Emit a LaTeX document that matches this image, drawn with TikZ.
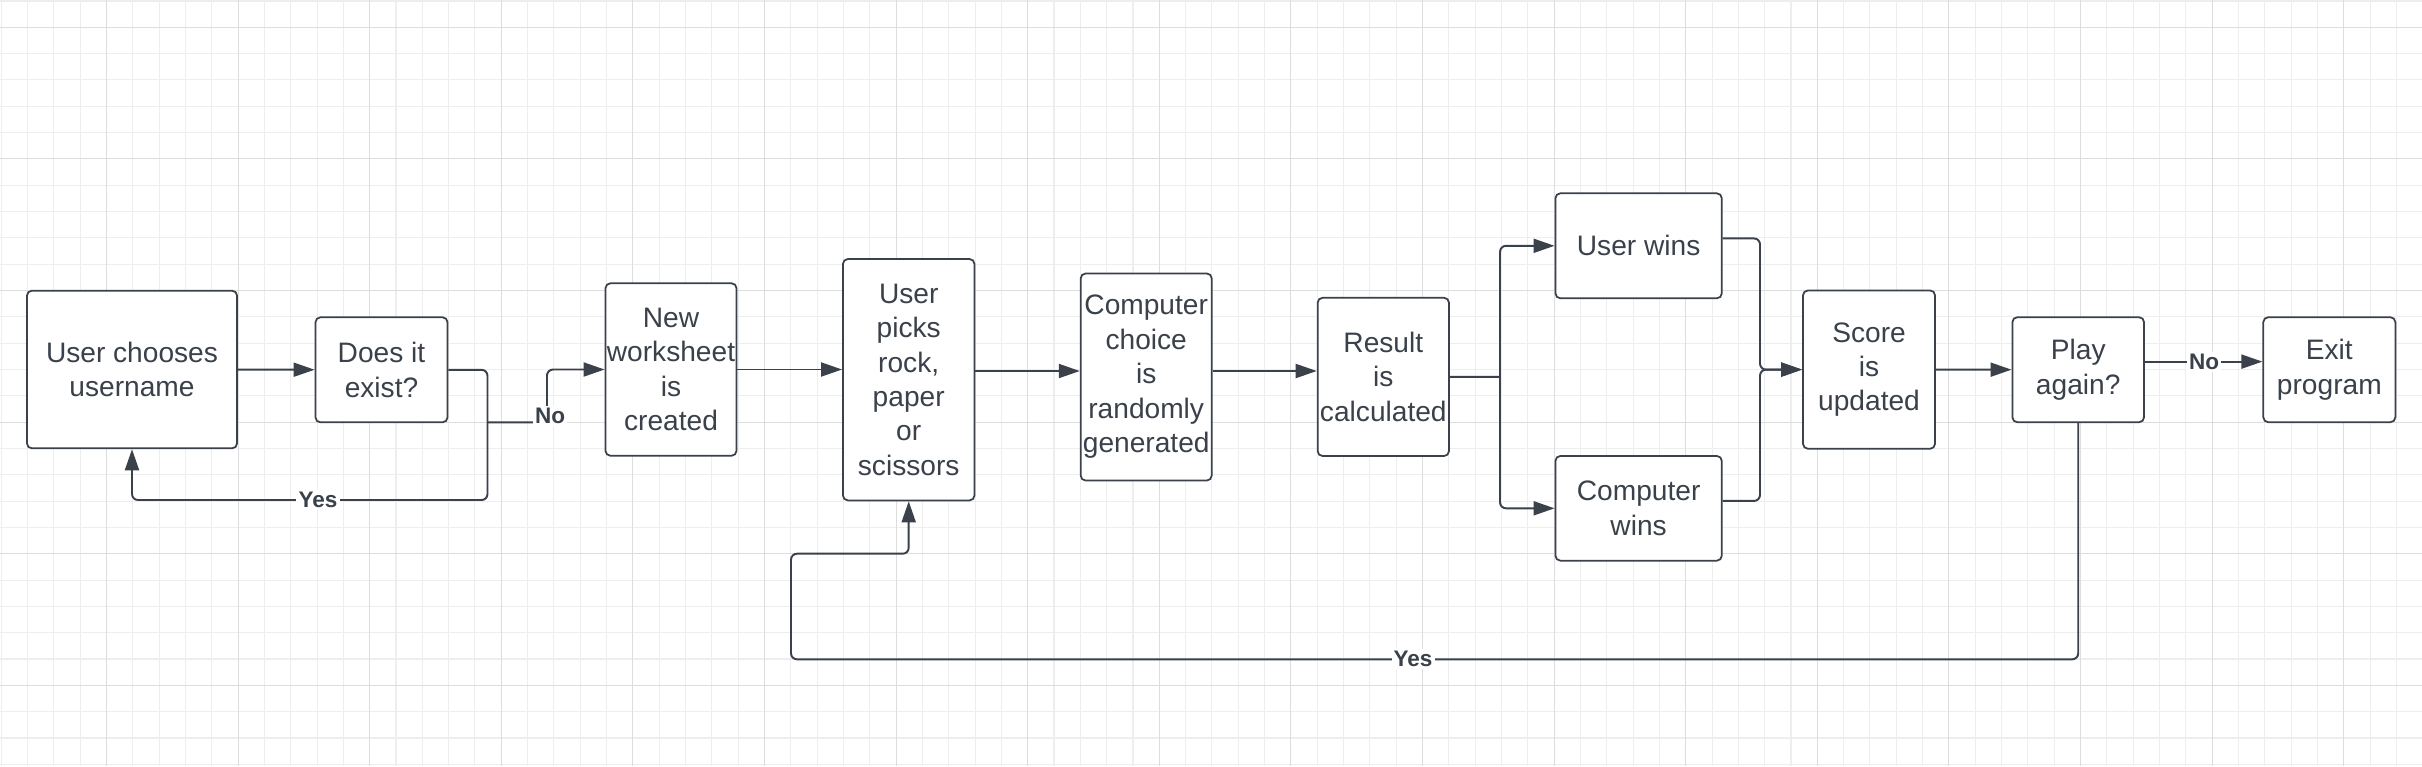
\documentclass[tikz,border=0pt]{standalone}
\usepackage{fontspec}
\setmainfont{Liberation Sans}
\usetikzlibrary{arrows.meta}
\definecolor{ink}{HTML}{3A414A}
\definecolor{minorline}{HTML}{EEEEEE}
\definecolor{majorline}{HTML}{DDDDDD}
\tikzset{
	stepbox/.style={draw=ink, text=ink, fill=white, rounded corners=0.5mm, line width=0.5pt, align=center, inner sep=0pt, font=\fontsize{8}{9.8}\selectfont},
	link/.style={draw=ink, line width=0.55pt, rounded corners=0.6mm},
	flow/.style={link, -{Triangle[length=2.1mm,width=1.4mm]}},
	answer/.style={text=ink, fill=white, inner sep=0.6pt, font=\bfseries\fontsize{6.4}{7.5}\selectfont}
}
\begin{document}
\begin{tikzpicture}[x=0.01cm, y=-0.01cm]
					\useasboundingbox (0,0) rectangle (2422,766);
					\fill[white] (0,0) rectangle (2422,766);

					% Paper grid
					\foreach \i in {0,...,91}
						\draw[minorline, line width=0.3pt] ({1.2+26.32*\i},0) -- ({1.2+26.32*\i},766);
					\foreach \j in {0,...,29}
						\draw[minorline, line width=0.3pt] (0,{1+26.32*\j}) -- (2422,{1+26.32*\j});
					\foreach \i in {4,9,...,89}
						\draw[majorline, line width=0.3pt] ({1.2+26.32*\i},0) -- ({1.2+26.32*\i},766);
					\foreach \j in {1,6,...,26}
						\draw[majorline, line width=0.3pt] (0,{1+26.32*\j}) -- (2422,{1+26.32*\j});

					% Steps
					\node[stepbox, minimum width=2.10cm, minimum height=1.576cm] (user) at (132,369.5) {User chooses\\username};
					\node[stepbox, minimum width=1.32cm, minimum height=1.05cm] (exists) at (381.5,369.8) {Does it\\exist?};
					\node[stepbox, minimum width=1.31cm, minimum height=1.724cm] (sheet) at (671,369.5) {New\\worksheet\\is\\created};
					\node[stepbox, minimum width=1.315cm, minimum height=2.413cm] (picks) at (908.7,379.7) {User\\picks\\rock,\\paper\\or\\scissors};
					\node[stepbox, minimum width=1.31cm, minimum height=2.07cm] (cpu) at (1146.2,377) {Computer\\choice\\is\\randomly\\generated};
					\node[stepbox, minimum width=1.313cm, minimum height=1.582cm] (result) at (1383.3,376.9) {Result\\is\\calculated};
					\node[stepbox, minimum width=1.663cm, minimum height=1.05cm] (uwin) at (1638.6,245.8) {User wins};
					\node[stepbox, minimum width=1.663cm, minimum height=1.047cm] (cwin) at (1638.6,508.3) {Computer\\wins};
					\node[stepbox, minimum width=1.32cm, minimum height=1.583cm] (score) at (1869,369.6) {Score\\is\\updated};
					\node[stepbox, minimum width=1.316cm, minimum height=1.05cm] (again) at (2078.2,369.7) {Play\\again?};
					\node[stepbox, minimum width=1.32cm, minimum height=1.05cm] (exit) at (2329.3,369.7) {Exit\\program};

					\coordinate (row) at (0,371);
					\coordinate (fork) at (487.5,500);
					\coordinate (nojoin) at (487.5,422.3);
					\coordinate (nobend) at (547,422.3);
					\coordinate (split) at (1500,376.8);
					\coordinate (merge) at (1760,369.6);
					\coordinate (back) at (791,659.3);
					\coordinate (backup) at (791,553.7);

					% Connectors
					\draw[flow] (user) -- (exists);
					\draw[flow] (exists.east) -| (fork) -| (user.south);
					\draw[flow] (nojoin) -- (nobend) |- (sheet.west);
					\draw[flow] (sheet.east) -- (sheet.east -| picks.west);
					\draw[flow] (picks.east |- row) -- (cpu.west |- row);
					\draw[flow] (cpu.east |- row) -- (result.west |- row);
					\draw[link] (result.east) -- (split);
					\draw[flow] (split) |- (uwin.west);
					\draw[flow] (split) |- (cwin.west);
					\draw[flow] ([yshift=2.1pt]uwin.east) -| (merge) -- (score.west);
					\draw[flow] ([yshift=2.1pt]cwin.east) -| (merge) -- (score.west);
					\draw[flow] (score) -- (again);
					\draw[flow] ([yshift=2.3pt]again.east) -- ([yshift=2.3pt]exit.west);
					\draw[flow] (again.south) |- (back) -- (backup) -| (picks.south);

					% Answers on the branches
					\node[answer] (yesname) at (318,500) {Yes};
					\node[answer] (noname) at (550,416) {No};
					\node[answer] (noplay) at (2204,361.7) {No};
					\node[answer] (yesplay) at (1413,659.3) {Yes};
\end{tikzpicture}
\end{document}
